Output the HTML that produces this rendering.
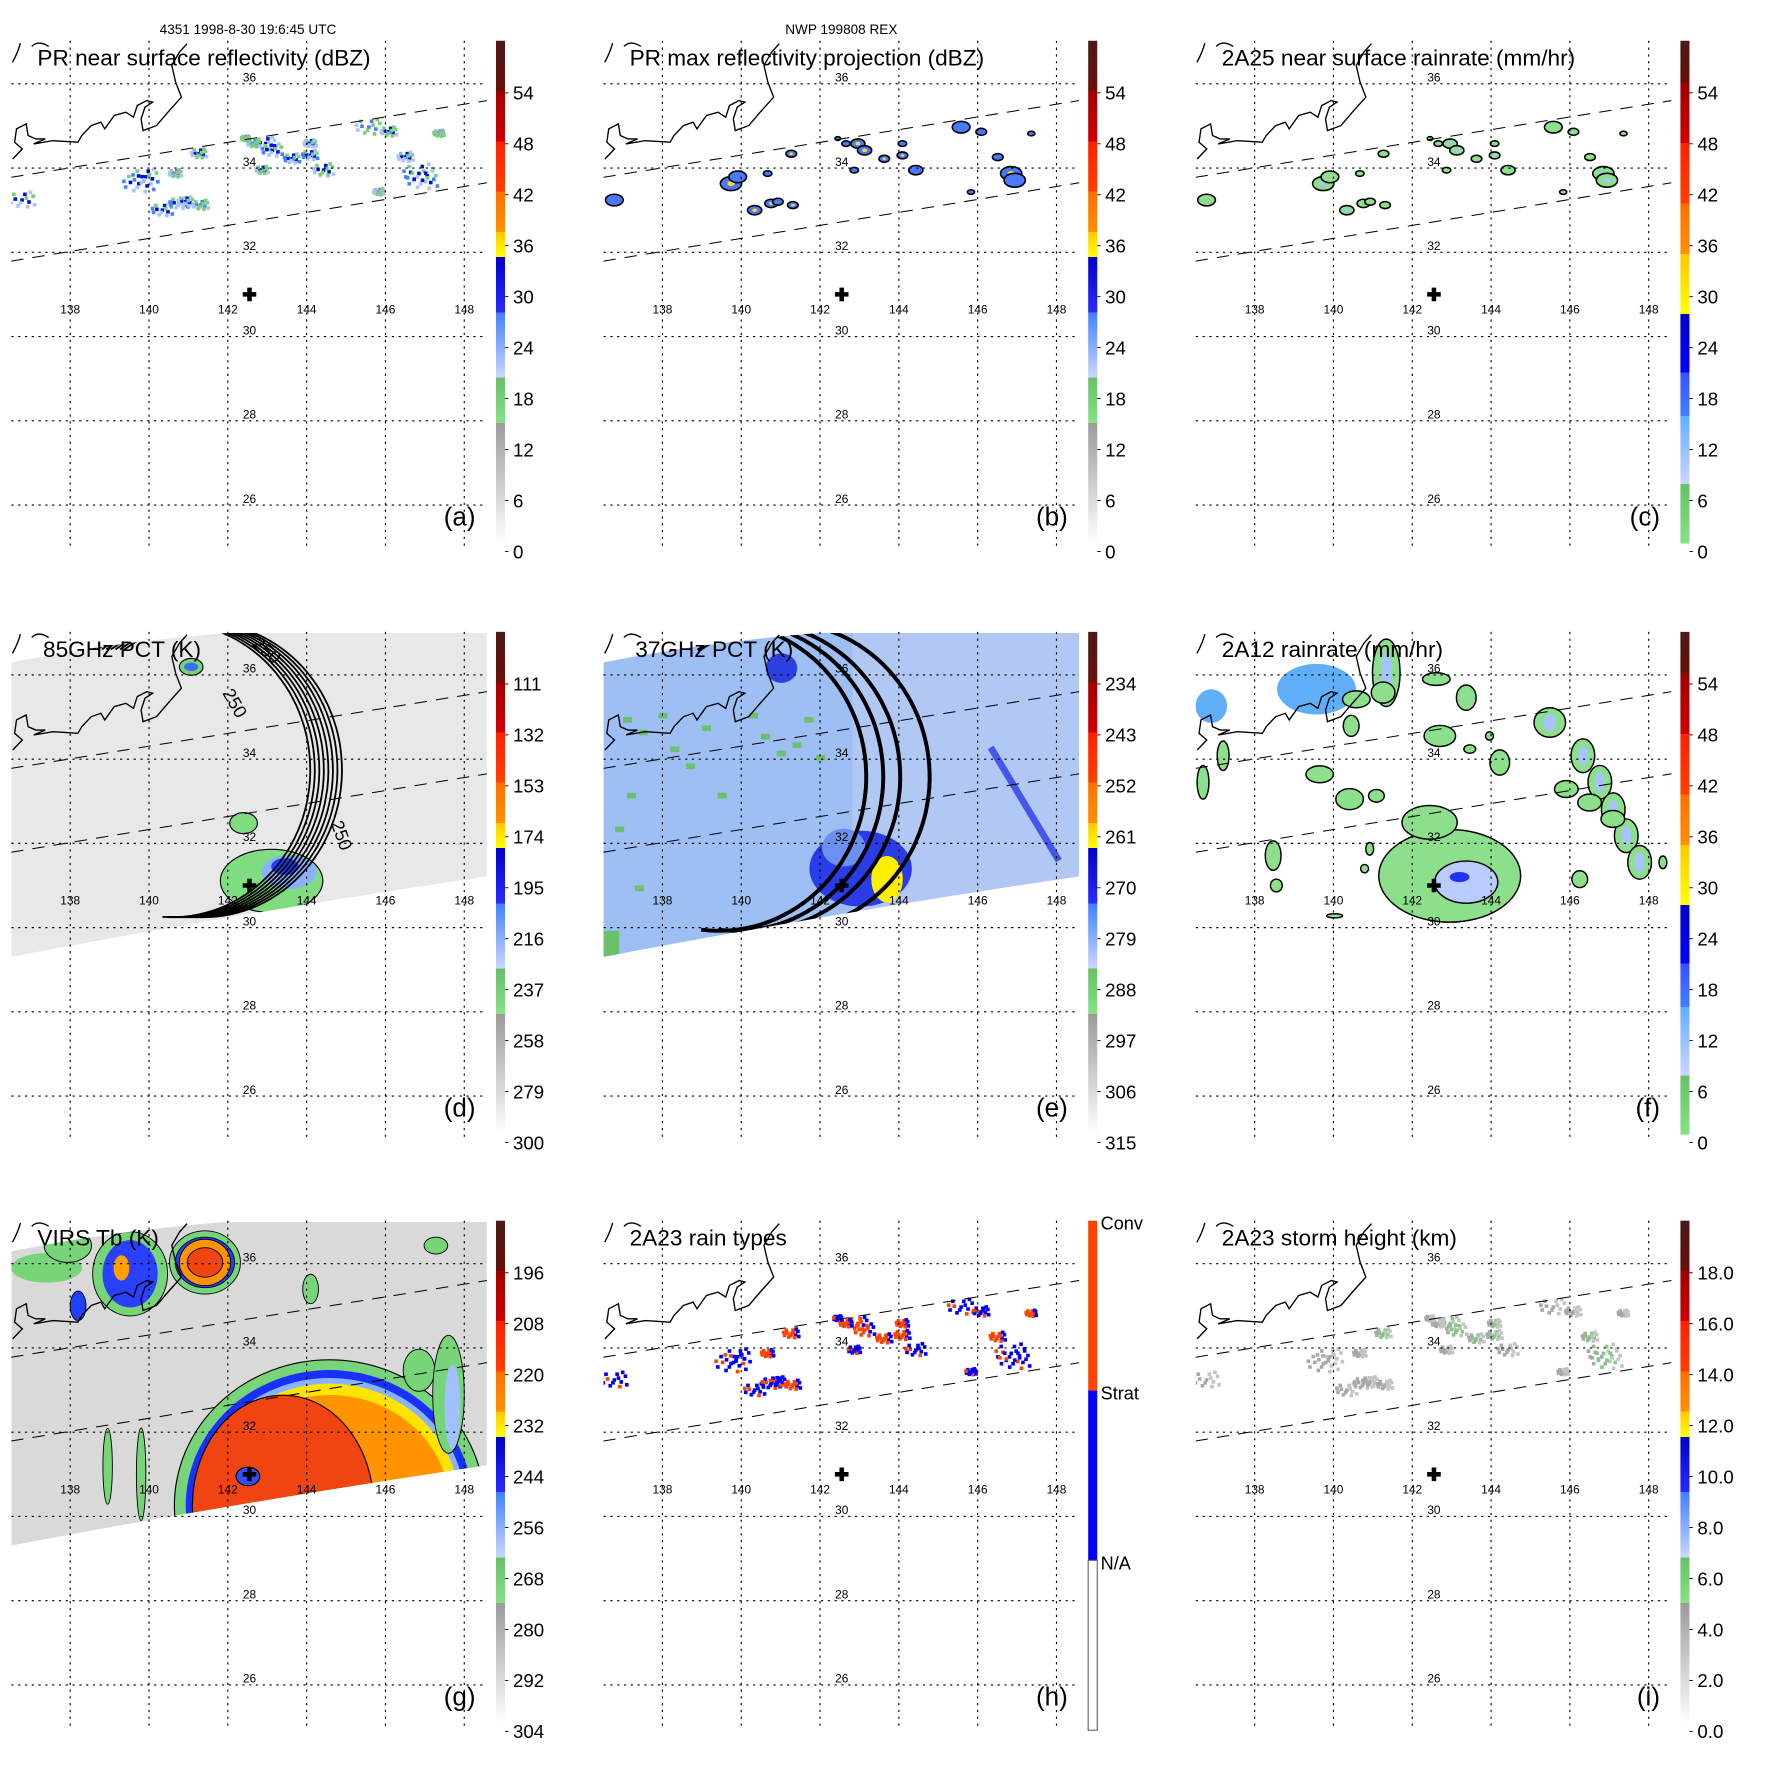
<!DOCTYPE html>
<html><head><meta charset="utf-8"><title>TRMM overpass panels</title>
<style>
html,body{margin:0;padding:0;background:#fff;}
svg{display:block;font-family:"Liberation Sans",Arial,sans-serif;}
</style></head>
<body>
<svg id="fig" width="1771" height="1771" viewBox="0 0 1564 1564">
<rect x="0" y="0" width="1564" height="1564" fill="#fff"/>
<text x="219" y="30" font-size="12" text-anchor="middle">4351 1998-8-30 19:6:45 UTC</text>
<text x="743" y="30" font-size="12" text-anchor="middle">NWP 199808 REX</text>
</svg>
<script>
// ---------- data ----------
const lonTicks = [138,140,142,144,146,148];
const latTicks = [36,34,32,30,28,26];
const centerLon = 142.55, centerLat = 31.0;
const swathUpperLon = [136.5, 148.7], swathUpperLat = [33.78, 35.62];
const swathLowerLon = [136.5, 148.7], swathLowerLat = [31.79, 33.67];

// PR rain cells
const cellLon  = [136.78,139.74,139.91,141.27,140.67,140.34,140.76,140.93,141.31,142.96,143.13,142.87,143.63,144.09,144.09,144.43,145.58,146.09,146.51,146.85,146.94,145.83,142.66,142.45,147.36];
const cellLat  = [33.24,33.63,33.79,34.34,33.87,33.00,33.16,33.20,33.12,34.58,34.42,33.95,34.22,34.58,34.30,33.95,34.97,34.86,34.26,33.87,33.71,33.43,34.58,34.70,34.82];
const cellSize = [0.25,0.3,0.25,0.15,0.12,0.2,0.18,0.15,0.15,0.2,0.2,0.12,0.15,0.12,0.15,0.2,0.25,0.15,0.15,0.3,0.3,0.1,0.12,0.08,0.1];
const cellDbz  = [29,31,30,28,26,31,30,29,27,32,31,28,30,29,31,28,27,28,29,31,30,26,27,25,24];
const cellMax  = [34,37,35,36,30,37,36,33,36,38,37,32,36,35,37,33,31,32,34,36,35,30,31,29,28];
const cellRain = [4,6,5,4,2,6,5,4,3,8,7,3,5,4,6,3,3,3,4,7,6,2,2,2,2];
const cellType = [1,1,1,2,2,1,1,1,2,2,2,1,2,2,2,1,1,1,2,1,1,1,2,1,2];
const cellHgt  = [3.5,4.5,4,5.5,3,4,4.5,3.5,3,5.5,5,3.5,5.5,5,5.5,4,4,4,5,5.5,5,3,3,3,3];

// 2A12 rain features
const fLon  = [139.57,136.90,141.34,142.95,142.44,143.37,146.33,146.76,147.10,147.43,147.77,145.91,146.50,147.09,145.49,143.37,142.61,142.70,140.58,141.26,140.45,139.65,140.41,141.09,144.22,143.46,143.96,138.47,138.55,137.20,136.69,146.25,148.36,140.03,140.92,140.79];
const fLat  = [35.66,35.26,36.05,31.23,32.50,31.08,34.08,33.45,32.80,32.18,31.55,33.29,32.97,32.58,34.87,35.46,35.90,34.55,35.42,35.58,34.79,33.64,33.05,33.13,33.92,34.24,34.55,31.71,31.00,34.08,33.45,31.15,31.55,30.28,31.87,31.40];
const fRx   = [1.0,0.4,0.35,1.8,0.7,0.8,0.3,0.3,0.3,0.3,0.3,0.3,0.3,0.3,0.4,0.25,0.35,0.4,0.35,0.3,0.2,0.35,0.35,0.2,0.25,0.15,0.1,0.2,0.15,0.15,0.15,0.2,0.1,0.2,0.1,0.1];
const fRy   = [0.6,0.4,0.8,1.1,0.4,0.5,0.4,0.4,0.4,0.4,0.4,0.2,0.2,0.2,0.35,0.3,0.15,0.25,0.2,0.25,0.25,0.2,0.25,0.15,0.3,0.1,0.1,0.35,0.15,0.35,0.4,0.2,0.15,0.05,0.15,0.1];
const fRain = [10,10,7,4,3,12,5,6,7,6,5,3,4,4,6,3,3,4,3,3,3,3,3,3,3,2,2,3,3,3,3,4,3,2,2,2];
const fKind = [1,1,0,0,0,2,0,0,0,0,0,0,0,0,0,0,0,0,0,0,0,0,0,0,0,0,0,0,0,0,0,0,0,0,0,0];

// colorbar tick labels
const ticksA = ["54","48","42","36","30","24","18","12","6","0"];
const ticksD = ["111","132","153","174","195","216","237","258","279","300"];
const ticksE = ["234","243","252","261","270","279","288","297","306","315"];
const ticksG = ["196","208","220","232","244","256","268","280","292","304"];
const ticksI = ["18.0","16.0","14.0","12.0","10.0","8.0","6.0","4.0","2.0","0.0"];
const typeLabels = ["Conv","Strat","N/A"];

// ---------- helpers ----------
const svg = document.getElementById('fig');
const NS = svg.namespaceURI;
function mk(parent, tag, attrs){
  const e = document.createElementNS(NS, tag);
  for (const k in attrs) e.setAttribute(k, attrs[k]);
  parent.appendChild(e);
  return e;
}
const ROWY = [0, 522, 1042];
function projX(p, lon){ return p.ox + 62 + (lon - 138) * 34.8; }
function projY(p, lat){ return p.oy + 74 + (36 - lat) * 37.2; }

const stopsA = [[0,'#ffffff'],[0.24,'#9a9a9a'],[0.24,'#88e088'],[0.33,'#66c066'],[0.33,'#ccd6ff'],[0.46,'#4080ff'],[0.46,'#2a2aff'],[0.57,'#0000c8'],[0.57,'#ffff00'],[0.62,'#ffc800'],[0.62,'#ff9000'],[0.70,'#ff7000'],[0.70,'#ff4000'],[0.80,'#ff2000'],[0.80,'#d00000'],[0.90,'#a00000'],[0.90,'#6a1008'],[1,'#4a1a1a']];
const stopsC = [[0,'#88e088'],[0.118,'#66c066'],[0.118,'#ccd6ff'],[0.254,'#60b0ff'],[0.254,'#4080ff'],[0.34,'#3a50ff'],[0.34,'#0000ff'],[0.457,'#0000c8'],[0.457,'#ffff00'],[0.576,'#ffc800'],[0.576,'#ff9000'],[0.676,'#ff7000'],[0.676,'#ff4000'],[0.797,'#ff2000'],[0.797,'#d00000'],[0.916,'#a00000'],[0.916,'#6a1008'],[1,'#4a1a1a']];

const defs = mk(svg, 'defs', {});
function grad(id, stops){
  const g = mk(defs, 'linearGradient', {id:id, x1:0, y1:1, x2:0, y2:0});
  stops.forEach(s => mk(g, 'stop', {offset:s[0], 'stop-color':s[1]}));
}
grad('cmA', stopsA); grad('cmC', stopsC);

function colA(f){
  if (f < 0.24) return '#b0b0b0';
  if (f < 0.33) return '#78d078';
  if (f < 0.40) return '#a8c4ff';
  if (f < 0.46) return '#4a80ff';
  if (f < 0.57) return '#0010e0';
  if (f < 0.62) return '#ffe000';
  if (f < 0.80) return '#ff7000';
  return '#d01000';
}

const PAT = [[0,0],[0.5,0.2],[-0.5,-0.1],[0.2,-0.6],[-0.3,0.6],[0.8,-0.4],[-0.8,0.3],[0.4,0.7],[-0.6,-0.6],[0.9,0.5],[-0.1,0.3],[0.3,-0.2],[-0.9,-0.2],[0.6,-0.8]];

const coastPts = [[11.2,140.4],[19.7,131.5],[12.9,125.6],[14.6,113.8],[23.1,109.4],[24.8,119.7],[31.5,122.7],[40,122.7],[29.8,127.1],[46.8,124.2],[68.8,125.6],[72.2,119.7],[80.6,110.9],[89.1,107.9],[92.5,113.8],[100.9,102],[111.1,99.1],[117.9,103.5],[121.2,93.2],[129.7,88.8],[134.8,90.2],[128,94.7],[124.6,105],[126.3,115.3],[138.2,110.9],[148.3,99.1],[160.2,85.8],[155.1,72.5],[151.7,57.8],[158.5,46],[165.2,38.6]];

const panels = [
 {id:'a', col:0,row:0, title:'PR near surface reflectivity (dBZ)', bar:'A', ticks:ticksA, kind:'pr'},
 {id:'b', col:1,row:0, title:'PR max reflectivity projection (dBZ)', bar:'A', ticks:ticksA, kind:'prmax'},
 {id:'c', col:2,row:0, title:'2A25 near surface rainrate (mm/hr)', bar:'C', ticks:ticksA, kind:'rain'},
 {id:'d', col:0,row:1, title:'85GHz PCT (K)', bar:'A', ticks:ticksD, kind:'pct85'},
 {id:'e', col:1,row:1, title:'37GHz PCT (K)', bar:'A', ticks:ticksE, kind:'pct37'},
 {id:'f', col:2,row:1, title:'2A12 rainrate (mm/hr)', bar:'C', ticks:ticksA, kind:'2a12'},
 {id:'g', col:0,row:2, title:'VIRS Tb (K)', bar:'A', ticks:ticksG, kind:'virs'},
 {id:'h', col:1,row:2, title:'2A23 rain types', bar:'H', ticks:typeLabels, kind:'type'},
 {id:'i', col:2,row:2, title:'2A23 storm height (km)', bar:'A', ticks:ticksI, kind:'hgt'}
];

function ell(parent, p, lon, lat, rxd, ryd, attrs){
  const a = Object.assign({cx:projX(p,lon), cy:projY(p,lat), rx:rxd*34.8, ry:ryd*37.2}, attrs);
  return mk(parent, 'ellipse', a);
}

function swathPoly(p){
  const x0=p.ox, y0=p.oy;
  return `M${x0+10},${y0+63} Q${x0+100},${y0+45} ${x0+200},${y0+37} L${x0+430},${y0+37} L${x0+430},${y0+252} Q${x0+220},${y0+283} ${x0+10},${y0+323} Z`;
}

panels.forEach(p => {
  p.ox = p.col * 523; p.oy = ROWY[p.row];
  const g = mk(svg, 'g', {});
  
  

  const cid = 'clip-' + p.id;
  const cp = mk(defs, 'clipPath', {id:cid});
  mk(cp, 'rect', {x:p.ox+10, y:p.oy+36, width:420, height:449});
  const map = mk(g, 'g', {'clip-path':'url(#'+cid+')'});
  
  

  if (p.kind === 'pct85' || p.kind === 'pct37' || p.kind === 'virs') {
    const bgc = p.kind === 'pct85' ? '#e8e8e8' : (p.kind === 'pct37' ? '#b2c8f4' : '#d9d9d9');
    const sid = 'sw-' + p.id;
    const scp = mk(defs, 'clipPath', {id:sid});
    mk(scp, 'path', {d:swathPoly(p)});
    const sw = mk(map, 'g', {'clip-path':'url(#'+sid+')'});
    
    
    const bg = mk(sw, 'path', {d:swathPoly(p), fill:bgc});
    
    

    if (p.kind === 'pct85') {
      const s1 = ell(sw,p,141.07,36.19,0.3,0.2,{fill:'#78d078',stroke:'#000','stroke-width':1});
       
      ell(sw,p,141.07,36.19,0.18,0.1,{fill:'#3a70ff'});
      const s2 = ell(sw,p,143.11,31.11,1.3,0.75,{fill:'#80dc80',stroke:'#000','stroke-width':1});
       
      ell(sw,p,143.55,31.32,0.7,0.4,{fill:'#8ab0ff'});
      ell(sw,p,143.45,31.45,0.35,0.2,{fill:'#2040ff'});
      ell(sw,p,142.4,32.48,0.35,0.25,{fill:'#80dc80',stroke:'#000','stroke-width':1});
      const cxs = [152,156,160,164,168,172,176,180];
      cxs.forEach((cx,i) => {
        let d = '';
        for (let t=-125; t<=96; t+=3) {
          const r = t*Math.PI/180;
          const x = p.ox + cx + 122*Math.cos(r), y = p.oy + 158 + 130*Math.sin(r);
          d += (t===-125?'M':'L') + x.toFixed(1) + ',' + y.toFixed(1) + ' ';
        }
        const a = mk(sw,'path',{d:d, fill:'none', stroke:'#000', 'stroke-width':1.6});
         
      });
      mk(sw,'text',{x:p.ox+292, y:p.oy+205, 'font-size':16, transform:`rotate(70 ${p.ox+292} ${p.oy+205})`}).textContent='250';
      mk(sw,'text',{x:p.ox+222, y:p.oy+48, 'font-size':16, transform:`rotate(40 ${p.ox+222} ${p.oy+48})`}).textContent='250';
      mk(sw,'text',{x:p.ox+196, y:p.oy+90, 'font-size':16, transform:`rotate(60 ${p.ox+196} ${p.oy+90})`}).textContent='250';
    }
    if (p.kind === 'pct37') {
      const lg = mk(sw,'rect',{x:p.ox+10,y:p.oy+36,width:220,height:300,fill:'#8cb8f4',opacity:0.55});
       
      const greenLon = [137.0,137.4,137.9,138.2,138.6,139.0,140.2,140.5,140.9,141.3,141.6,137.1,136.8,137.3,139.4,141.9];
      const greenLat = [35.0,34.7,35.1,34.3,33.9,34.8,35.1,34.6,34.2,34.4,35.0,33.2,32.4,31.0,33.2,34.1];
      greenLon.forEach((lo,i)=>{
        const r = mk(sw,'rect',{x:projX(p,lo),y:projY(p,greenLat[i]),width:8,height:5,fill:'#6cc06c'});
         
      });
      mk(sw,'rect',{x:p.ox+10,y:p.oy+300,width:14,height:30,fill:'#6cc06c'});
      ell(sw,p,141.02,36.16,0.4,0.35,{fill:'#2a40e0'});
      const st = ell(sw,p,143.03,31.4,1.3,0.9,{fill:'#2a3ce8'});
       
      ell(sw,p,142.6,31.9,0.55,0.45,{fill:'#6a90f0'});
      const y = ell(sw,p,143.7,31.15,0.4,0.55,{fill:'#ffee00'});
       
      const ln = mk(sw,'line',{x1:projX(p,146.33),y1:projY(p,34.28),x2:projX(p,148.06),y2:projY(p,31.59),stroke:'#2a3ce8','stroke-width':6,opacity:0.8});
       
      const cxs = [635,650,665,691];
      cxs.forEach(cx => {
        let d = '';
        for (let t=-125; t<=97; t+=3) {
          const r = t*Math.PI/180;
          const x = cx + 130*Math.cos(r), yy = p.oy + 164 + 136*Math.sin(r);
          d += (t===-125?'M':'L') + x.toFixed(1) + ',' + yy.toFixed(1) + ' ';
        }
        const a = mk(sw,'path',{d:d, fill:'none', stroke:'#000', 'stroke-width':3.5});
         
      });
    }
    if (p.kind === 'virs') {
      const ringRx = [137,127,120,115,106];
      const ringRy = [129,120,113,108,98];
      const ringC  = ['#78d478','#1a30ff','#88b4ff','#ffe400','#ff9400'];
      ringRx.forEach((rx,i)=>{
        const e = ell(sw,p,144.58,30.25,rx/34.8,ringRy[i]/37.2,{fill:ringC[i], stroke: i===0?'#000':'none','stroke-width':1});
         
      });
      const core = ell(sw,p,143.4,30.25,2.3,2.63,{fill:'#f04412',stroke:'#000','stroke-width':1});
       
      ell(sw,p,142.51,30.95,0.3,0.22,{fill:'#3050ff',stroke:'#000','stroke-width':1});
      const blobR = [[0.9,0.75,'#78d478'],[0.75,0.6,'#2040ff'],[0.65,0.55,'#ff9400'],[0.45,0.35,'#f04412']];
      blobR.forEach(b=>{ const e=ell(sw,p,141.42,36.03,b[0],b[1],{fill:b[2],stroke:'#000','stroke-width':0.8});   });
      ell(sw,p,139.52,35.76,0.95,1.0,{fill:'#78d478',stroke:'#000','stroke-width':0.8});
      ell(sw,p,139.52,35.76,0.7,0.8,{fill:'#2a40ff'});
      ell(sw,p,139.3,35.9,0.2,0.3,{fill:'#ffa000'});
      ell(sw,p,137.4,35.9,0.9,0.35,{fill:'#78d478'});
      ell(sw,p,137.94,36.43,0.6,0.4,{fill:'#78d478',stroke:'#000','stroke-width':0.8});
      ell(sw,p,138.2,35.0,0.2,0.35,{fill:'#2040ff',stroke:'#000','stroke-width':0.8});
      ell(sw,p,147.28,36.43,0.3,0.2,{fill:'#78d478',stroke:'#000','stroke-width':0.8});
      ell(sw,p,146.85,33.47,0.4,0.5,{fill:'#78d478',stroke:'#000','stroke-width':0.8});
      ell(sw,p,144.1,35.4,0.2,0.35,{fill:'#78d478',stroke:'#000','stroke-width':0.8});
      ell(sw,p,138.95,31.19,0.12,0.9,{fill:'#78d478',stroke:'#000','stroke-width':0.8});
      ell(sw,p,139.8,31.0,0.12,1.1,{fill:'#78d478',stroke:'#000','stroke-width':0.8});
      ell(sw,p,147.6,32.9,0.4,1.4,{fill:'#78d478',stroke:'#000','stroke-width':0.8});
      ell(sw,p,147.7,32.6,0.2,1.0,{fill:'#a0c0ff'});
    }
  }

  if (p.kind === '2a12') {
    fLon.forEach((lo,i)=>{
      const k = fKind[i];
      const fill = k===1 ? '#60aef8' : '#8ce08c';
      const e = ell(map,p,lo,fLat[i],fRx[i],fRy[i],{fill:fill, stroke: k===1?'none':'#000','stroke-width':1.3});
      
      
      if (k===2) e.setAttribute('fill','#b8ccff');
      if (k===0 && fRain[i]>=5) ell(map,p,lo,fLat[i],fRx[i]*0.4,fRy[i]*0.6,{fill:'#a8c4ff'});
    });
    ell(map,p,143.2,31.2,0.25,0.12,{fill:'#2030ff'});
  }

  if (p.kind === 'pr' || p.kind === 'type' || p.kind === 'hgt') {
    cellLon.forEach((lo,i)=>{
      const cx = projX(p,lo), cy = projY(p,cellLat[i]);
      const r = cellSize[i]*34.8*1.4;
      PAT.forEach((o,j)=>{
        let c;
        if (p.kind==='pr') c = colA((j<4 ? cellDbz[i] : cellDbz[i]-6 - (j%3)*3)/60);
        else if (p.kind==='type') c = (cellType[i]===2 ? (j%4===1?'#0000ff':'#ff4400') : (j%5===2?'#ff4400':'#0000ff'));
        else c = (cellHgt[i]>=5 && j<5) ? '#78d078' : (j%2 ? '#c4c4c4' : '#a8a8a8');
        const s = mk(map,'rect',{x:(cx+o[0]*r-1.6).toFixed(1), y:(cy+o[1]*r*0.7-1.6).toFixed(1), width:3.2, height:3.2, fill:c});
        
        
      });
    });
  }
  if (p.kind === 'prmax' || p.kind === 'rain') {
    cellLon.forEach((lo,i)=>{
      const fill = p.kind==='prmax' ? '#4a78ff' : '#8ce08c';
      const e = ell(map,p,lo,cellLat[i],cellSize[i]*0.9,cellSize[i]*0.55,{fill:fill, stroke:'#000','stroke-width':1.4});
      
      
      if (p.kind==='prmax' && cellMax[i]>=36) ell(map,p,lo,cellLat[i],cellSize[i]*0.3,cellSize[i]*0.2,{fill:'#ffe000'});
      if (p.kind==='rain' && cellRain[i]>=6) ell(map,p,lo,cellLat[i],cellSize[i]*0.35,cellSize[i]*0.2,{fill:'#a8c4ff'});
    });
  }

  lonTicks.forEach(lo=>{
    const x = projX(p,lo);
    const l = mk(g,'line',{x1:x,y1:p.oy+36,x2:x,y2:p.oy+485,stroke:'#000','stroke-width':1,'stroke-dasharray':'2,4'});
     
    const t = mk(g,'text',{x:x,y:projY(p,30.55),'font-size':10.5,'text-anchor':'middle'});
     
    t.textContent = lo;
  });
  latTicks.forEach(la=>{
    const y = projY(p,la);
    const l = mk(g,'line',{x1:p.ox+10,y1:y,x2:p.ox+430,y2:y,stroke:'#000','stroke-width':1,'stroke-dasharray':'2,4'});
     
    const t = mk(g,'text',{x:projX(p,142.55),y:y-2,'font-size':10.5,'text-anchor':'middle'});
     
    t.textContent = la;
  });

  [[swathUpperLon,swathUpperLat],[swathLowerLon,swathLowerLat]].forEach((e,k)=>{
    const l = mk(map,'line',{x1:projX(p,e[0][0]),y1:projY(p,e[1][0]),x2:projX(p,e[0][1]),y2:projY(p,e[1][1]),stroke:'#000','stroke-width':0.9,'stroke-dasharray':'11,8'});
     
  });

  const cd = 'M' + coastPts.map(q=>(p.ox+q[0]).toFixed(1)+','+(p.oy+q[1]).toFixed(1)).join(' L');
  const coast = mk(map,'path',{d:cd,fill:'none',stroke:'#000','stroke-width':1.2});
   
  mk(map,'path',{d:`M${p.ox+11},${p.oy+55} Q${p.ox+16},${p.oy+46} ${p.ox+18},${p.oy+38}`,fill:'none',stroke:'#000','stroke-width':1.2});
  mk(map,'path',{d:`M${p.ox+28},${p.oy+41} Q${p.ox+34},${p.oy+35} ${p.ox+43},${p.oy+41}`,fill:'none',stroke:'#000','stroke-width':1.2});

  const cxp = projX(p,centerLon), cyp = projY(p,centerLat);
  const cr = mk(g,'path',{d:`M${cxp-6},${cyp-2} h4 v-4 h4 v4 h4 v4 h-4 v4 h-4 v-4 h-4 z`,fill:'#000'});
   

  const tt = mk(g,'text',{x:p.ox+(p.id==='d'||p.id==='e'?38:33),y:p.oy+58,'font-size':20});
   
  tt.textContent = p.title;
  const lt = mk(g,'text',{x:p.ox+420,y:p.oy+464,'font-size':23,'text-anchor':'end'});
   
  lt.textContent = '(' + p.id + ')';

  const bx = p.ox + 438, by = p.oy + 36, bh = 444;
  const cb = mk(g,'g',{});
  
  
  if (p.bar === 'H') {
    const seg = [['#ff4400',0],['#0000ff',1],['#ffffff',2]];
    seg.forEach(s=>{
      const r = mk(cb,'rect',{x:bx,y:by+s[1]*150,width:8,height:150,fill:s[0],stroke:s[1]===2?'#666':'none','stroke-width':1});
       
    });
    p.ticks.forEach((lab,k)=>{
      const t = mk(cb,'text',{x:bx+11,y:by+8+k*150,'font-size':16});
       
      t.textContent = lab;
    });
  } else {
    const r = mk(cb,'rect',{x:bx,y:by,width:8,height:bh,fill:p.bar==='C'?'url(#cmC)':'url(#cmA)'});
     
    p.ticks.forEach((lab,k)=>{
      const y = p.oy + 82 + 45*k;
      mk(cb,'line',{x1:bx+8,y1:y,x2:bx+11,y2:y,stroke:'#000','stroke-width':0.8});
      const t = mk(cb,'text',{x:bx+15,y:y+6,'font-size':16.5});
       
      t.textContent = lab;
    });
  }
});
</script>
</body></html>
